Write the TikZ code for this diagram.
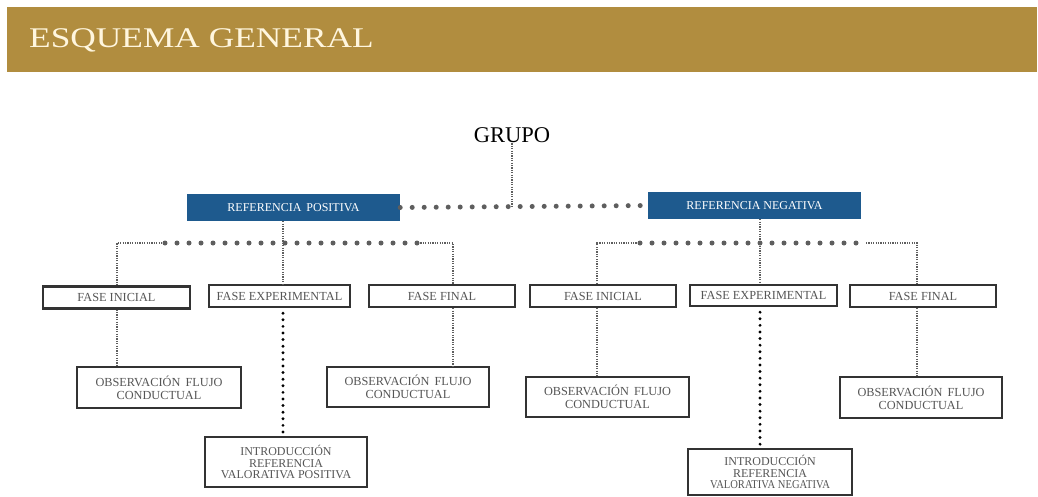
\documentclass[tikz,border=0pt]{standalone}
\usepackage{fontspec}
\setmainfont{Liberation Serif}
\usepackage{xcolor}
\usepackage{tikz}
\usetikzlibrary{calc}
\definecolor{gold}{HTML}{B18D3F}
\definecolor{cream}{HTML}{FFF6DE}
\definecolor{refblue}{HTML}{1E5A8E}
\definecolor{boxline}{HTML}{333333}
\definecolor{boxtext}{HTML}{555555}
\definecolor{dotgray}{HTML}{5E5E5E}

\begin{document}
\begin{tikzpicture}[
  x=1pt, y=-1pt,
  refbox/.style={rectangle, fill=refblue, text=white, inner sep=0pt,
                 minimum width=213, minimum height=27,
                 font=\fontsize{12}{12}\selectfont},
  fasebox/.style={rectangle, draw=boxline, line width=2.3pt, text=boxtext, inner sep=0pt,
                  minimum width=146, minimum height=22,
                  font=\fontsize{12.3}{12}\selectfont},
  leafbox/.style={rectangle, draw=boxline, line width=2.3pt, text=boxtext, inner sep=0pt,
                  minimum width=163, minimum height=41, align=center,
                  font=\fontsize{12.3}{13}\selectfont},
  finedots/.style={dotgray, line width=1.3pt, dash pattern=on 1.2pt off 1.2pt},
  bigdots/.style={dotgray, line width=5pt, line cap=round, dash pattern=on 0pt off 12pt},
  blackdots/.style={black, line width=3.2pt, line cap=round, dash pattern=on 0pt off 6.6pt,
                    shorten <=5pt, shorten >=3pt}
]
  \useasboundingbox (0,0) rectangle (1038,496);
  % title bar
  \fill[gold] (7,7) rectangle (1037,72);
  \node[anchor=base west, text=cream, inner sep=0pt, font=\fontsize{28.5}{28}\selectfont]
    (title) at (29,47) {\scalebox{1.24}[1]{ESQUEMA GENERAL}};

  \node[anchor=base, inner sep=1pt, font=\fontsize{22.5}{22}\selectfont] (grupo) at (512,142) {GRUPO};
  \node[refbox] (refpos) at (293.5,207.5) {REFERENCIA\, POSITIVA};
  \node[refbox] (refneg) at (754.5,205.5) {REFERENCIA NEGATIVA};

  \node[fasebox, minimum width=147] (finiL) at (116.5,297.5) {FASE INICIAL};
  \node[fasebox, minimum width=141] (fexpL) at (279.5,296) {FASE EXPERIMENTAL};
  \node[fasebox] (ffinL) at (442,296) {FASE FINAL};
  \node[fasebox] (finiR) at (603,296) {FASE INICIAL};
  \node[fasebox, minimum width=147, minimum height=21] (fexpR) at (763.5,295.5) {FASE EXPERIMENTAL};
  \node[fasebox] (ffinR) at (923,296) {FASE FINAL};

  \node[leafbox, minimum width=164] (obsL1) at (159,387.5) {OBSERVACIÓN\, FLUJO\\CONDUCTUAL};
  \node[leafbox, minimum width=162, minimum height=40] (obsL3) at (408,387) {OBSERVACIÓN\, FLUJO\\CONDUCTUAL};
  \node[leafbox, minimum height=40] (obsR1) at (607.5,397) {OBSERVACIÓN\, FLUJO\\CONDUCTUAL};
  \node[leafbox, minimum width=162] (obsR3) at (921,397.5) {OBSERVACIÓN\, FLUJO\\CONDUCTUAL};
  \node[leafbox, minimum width=162, minimum height=50, font=\fontsize{12}{11.5}\selectfont]
    (introL) at (286,462) {INTRODUCCIÓN\\REFERENCIA\\VALORATIVA POSITIVA};
  \node[leafbox, minimum width=164, minimum height=46, font=\fontsize{12}{11.5}\selectfont]
    (introR) at (770,472) {INTRODUCCIÓN\\REFERENCIA\\\scalebox{0.88}[1]{VALORATIVA NEGATIVA}};

  % junctions of the two buses
  \coordinate (bl1) at (117,243);  \coordinate (bl1a) at (165,243);
  \coordinate (bl2) at (283,243);
  \coordinate (bl3a) at (418,243); \coordinate (bl3) at (453,243);
  \coordinate (br1) at (597,243);  \coordinate (br1a) at (640,243);
  \coordinate (br2) at (760,243);
  \coordinate (br3a) at (866,243); \coordinate (br3) at (917,243);

  \draw[finedots] (grupo.south) -- (grupo.south |- refpos.east);
  \draw[bigdots] (refpos.east) -- (refneg.west);

  \draw[finedots] (bl1 |- finiL.north) -- (bl1) -- (bl1a);
  \draw[bigdots] (bl1a) -- (bl3a);
  \draw[finedots] (bl3a) -- (bl3) -- (bl3 |- ffinL.north);
  \draw[finedots] (refpos.south -| bl2) -- (bl2 |- fexpL.north);
  \draw[finedots] (finiL.south -| bl1) -- (bl1 |- obsL1.north);
  \draw[blackdots] (fexpL.south -| bl2) -- (bl2 |- introL.north);
  \draw[finedots] (ffinL.south -| bl3) -- (bl3 |- obsL3.north);

  \draw[finedots] (br1 |- finiR.north) -- (br1) -- (br1a);
  \draw[bigdots] (br1a) -- (br3a);
  \draw[finedots] (br3a) -- (br3) -- (br3 |- ffinR.north);
  \draw[finedots] (refneg.south -| br2) -- (br2 |- fexpR.north);
  \draw[finedots] (finiR.south -| br1) -- (br1 |- obsR1.north);
  \draw[blackdots] (fexpR.south -| br2) -- (br2 |- introR.north);
  \draw[finedots] (ffinR.south -| br3) -- (br3 |- obsR3.north);
\end{tikzpicture}
\end{document}
